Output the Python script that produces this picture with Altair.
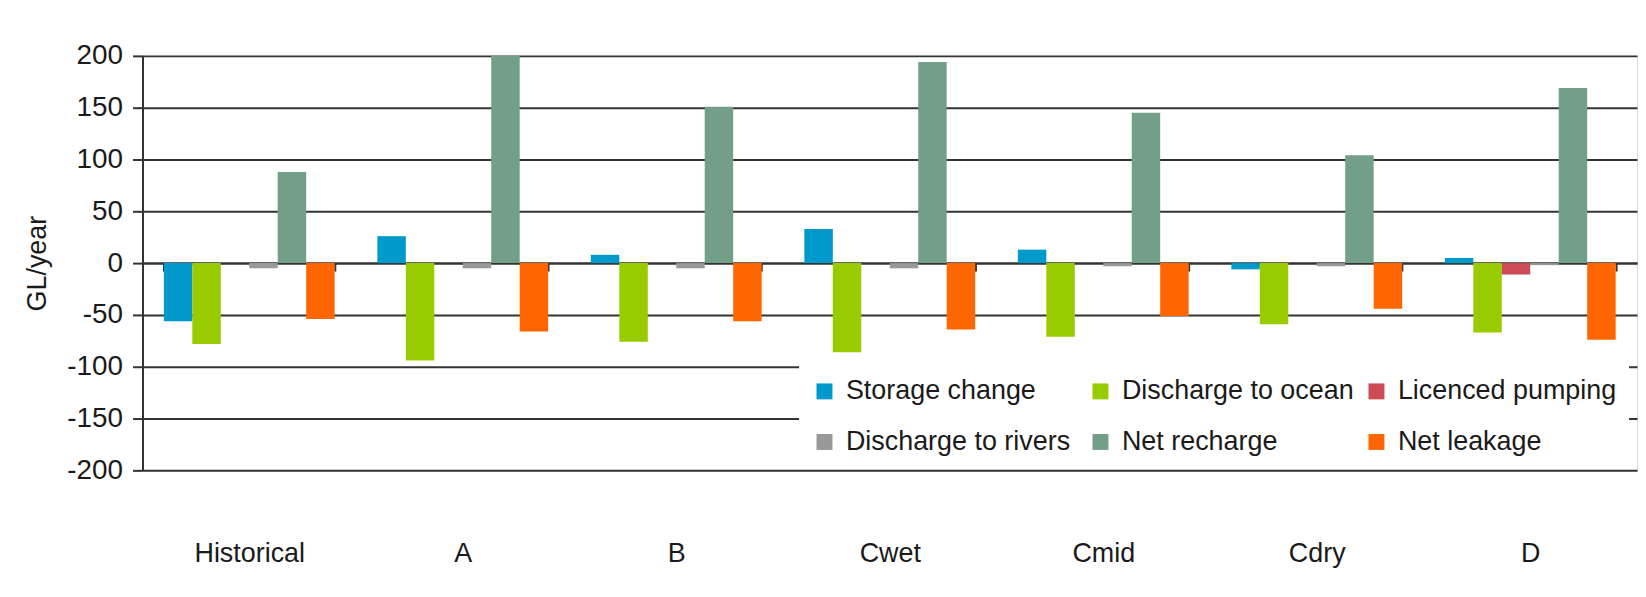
import altair as alt
import pandas as pd

scenarios = ["Historical", "A", "B", "Cwet", "Cmid", "Cdry", "D"]
series_names = ["Storage change", "Discharge to ocean", "Licenced pumping",
                "Discharge to rivers", "Net recharge", "Net leakage"]
colors = ["#0099cc", "#99cc00", "#cc4b57", "#999999", "#739f89", "#ff6600"]

storage_change = [-56, 26, 8, 33, 13, -6, 5]
discharge_ocean = [-78, -94, -76, -86, -71, -59, -67]
licenced_pumping = [0, 0, 0, 0, 0, 0, -11]
discharge_rivers = [-5, -5, -5, -5, -3, -3, -2]
net_recharge = [88, 200, 151, 194, 145, 104, 169]
net_leakage = [-54, -66, -56, -64, -51, -44, -74]

y_ticks = [-200, -150, -100, -50, 0, 50, 100, 150, 200]

series_values = [storage_change, discharge_ocean, licenced_pumping,
                 discharge_rivers, net_recharge, net_leakage]
rows = []
for name, vals in zip(series_names, series_values):
    for sc, v in zip(scenarios, vals):
        rows.append({"scenario": sc, "series": name, "value": v})
df = pd.DataFrame(rows)

W, H = 1500, 416
FONT = "Liberation Sans"
INK = "#1a1a1a"
LINE = "#333333"

chart = alt.Chart(df).mark_bar().encode(
    x=alt.X("scenario:N", sort=scenarios,
            scale=alt.Scale(paddingInner=0.2, paddingOuter=0.1),
            axis=alt.Axis(title=None, orient="bottom", offset=-H / 2,
                          domain=True, domainColor=LINE, domainWidth=2,
                          ticks=True, tickBand="extent", tickSize=8,
                          tickColor=LINE, tickWidth=2,
                          labelPadding=270, labelFontSize=27, labelAngle=0,
                          labelFont=FONT, labelColor=INK, grid=False)),
    xOffset=alt.XOffset("series:N", sort=series_names,
                        scale=alt.Scale(paddingInner=0, paddingOuter=0)),
    y=alt.Y("value:Q",
            scale=alt.Scale(domain=[-200, 200], nice=False),
            axis=alt.Axis(title="GL/year", values=y_ticks,
                          labelExpr="'' + datum.value",
                          labelFontSize=28, labelFont=FONT, labelColor=INK,
                          labelPadding=10, tickSize=10, tickColor=LINE,
                          tickWidth=2, domainColor=LINE, domainWidth=2,
                          grid=True, gridColor=LINE, gridWidth=2,
                          titleFont=FONT, titleFontSize=27,
                          titleFontWeight="normal", titleColor=INK,
                          titleX=-105, titleY=H / 2, titleAngle=270,
                          titleAlign="center", titleBaseline="middle")),
    color=alt.Color("series:N", sort=series_names,
                    scale=alt.Scale(domain=series_names, range=colors),
                    legend=alt.Legend(title=None, orient="none",
                                      direction="horizontal",
                                      legendX=659, legendY=311,
                                      columns=3, gridAlign="all",
                                      columnPadding=9, rowPadding=23,
                                      padding=12, fillColor="white",
                                      symbolType="square", symbolSize=256,
                                      symbolStrokeWidth=0, labelOffset=8,
                                      labelFontSize=27, labelFont=FONT,
                                      labelColor=INK, labelLimit=400)),
).properties(
    width=W, height=H,
    autosize=alt.AutoSizeParams(type="none"),
    padding={"left": 135, "top": 47, "right": 1, "bottom": 110},
).configure_view(
    stroke=LINE, strokeWidth=2
).configure(background="white")

chart.save("out.html", embed_options={"renderer": "svg", "actions": False})
